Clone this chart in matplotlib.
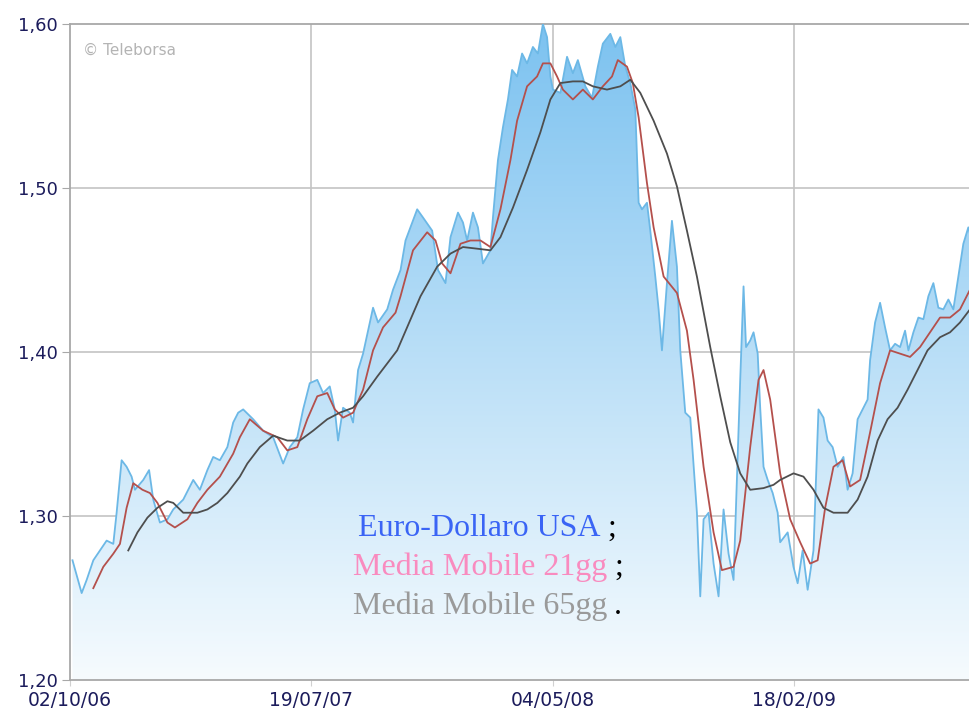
import numpy as np
import pandas as pd
import matplotlib
matplotlib.use("Agg")
import matplotlib.pyplot as plt
import matplotlib.dates as mdates
from matplotlib.ticker import FuncFormatter

# Cambio Euro-Dollaro (letture a intervalli irregolari)
prezzo_date = [
    "2006-10-05", "2006-10-16", "2006-10-22", "2006-10-30", "2006-11-07", "2006-11-15",
    "2006-11-23", "2006-11-27", "2006-12-03", "2006-12-09", "2006-12-15", "2006-12-19",
    "2006-12-29", "2007-01-05", "2007-01-10", "2007-01-18", "2007-01-27", "2007-02-03",
    "2007-02-15", "2007-02-27", "2007-03-07", "2007-03-16", "2007-03-23", "2007-03-31",
    "2007-04-09", "2007-04-16", "2007-04-22", "2007-04-28", "2007-05-10", "2007-05-22",
    "2007-06-03", "2007-06-15", "2007-06-23", "2007-07-02", "2007-07-09", "2007-07-17",
    "2007-07-26", "2007-08-02", "2007-08-10", "2007-08-16", "2007-08-20", "2007-08-26",
    "2007-09-03", "2007-09-07", "2007-09-13", "2007-09-19", "2007-09-25", "2007-10-01",
    "2007-10-07", "2007-10-18", "2007-10-25", "2007-11-03", "2007-11-09", "2007-11-23",
    "2007-11-30", "2007-12-11", "2007-12-18", "2007-12-27", "2008-01-02", "2008-01-11",
    "2008-01-17", "2008-01-22", "2008-01-29", "2008-02-04", "2008-02-10", "2008-02-19",
    "2008-02-22", "2008-02-28", "2008-03-05", "2008-03-11", "2008-03-16", "2008-03-22",
    "2008-03-28", "2008-04-03", "2008-04-10", "2008-04-16", "2008-04-22", "2008-04-27",
    "2008-05-01", "2008-05-04", "2008-05-13", "2008-05-21", "2008-05-28", "2008-06-03",
    "2008-06-12", "2008-06-20", "2008-06-27", "2008-07-03", "2008-07-12", "2008-07-18",
    "2008-07-24", "2008-07-30", "2008-08-05", "2008-08-11", "2008-08-15", "2008-08-19",
    "2008-08-25", "2008-08-29", "2008-09-04", "2008-09-08", "2008-09-12", "2008-09-18",
    "2008-09-24", "2008-09-30", "2008-10-04", "2008-10-10", "2008-10-16", "2008-10-24",
    "2008-10-28", "2008-11-01", "2008-11-07", "2008-11-13", "2008-11-19", "2008-11-25",
    "2008-12-01", "2008-12-07", "2008-12-11", "2008-12-15", "2008-12-19", "2008-12-22",
    "2008-12-27", "2008-12-31", "2009-01-05", "2009-01-08", "2009-01-12", "2009-01-17",
    "2009-01-23", "2009-01-29", "2009-02-01", "2009-02-10", "2009-02-17", "2009-02-22",
    "2009-02-28", "2009-03-06", "2009-03-13", "2009-03-19", "2009-03-25", "2009-03-30",
    "2009-04-05", "2009-04-11", "2009-04-18", "2009-04-23", "2009-04-29", "2009-05-05",
    "2009-05-11", "2009-05-17", "2009-05-20", "2009-05-26", "2009-06-01", "2009-06-07",
    "2009-06-13", "2009-06-19", "2009-06-25", "2009-07-01", "2009-07-05", "2009-07-11",
    "2009-07-17", "2009-07-23", "2009-07-29", "2009-08-04", "2009-08-10", "2009-08-16",
    "2009-08-22", "2009-08-28", "2009-09-03", "2009-09-09", "2009-09-15", "2009-09-17",
]
prezzo = [
    1.273, 1.253, 1.261, 1.273, 1.279, 1.285,
    1.283, 1.302, 1.334, 1.330, 1.324, 1.316,
    1.322, 1.328, 1.310, 1.296, 1.298, 1.304,
    1.310, 1.322, 1.316, 1.328, 1.336, 1.334,
    1.342, 1.357, 1.363, 1.365, 1.359, 1.352,
    1.348, 1.332, 1.342, 1.348, 1.365, 1.381,
    1.383, 1.375, 1.379, 1.365, 1.346, 1.366,
    1.363, 1.357, 1.389, 1.399, 1.413, 1.427,
    1.418, 1.426, 1.438, 1.450, 1.468, 1.487,
    1.482, 1.474, 1.450, 1.442, 1.470, 1.485,
    1.479, 1.468, 1.485, 1.476, 1.454, 1.462,
    1.482, 1.517, 1.537, 1.554, 1.572, 1.568,
    1.582, 1.576, 1.586, 1.582, 1.600, 1.592,
    1.568, 1.560, 1.558, 1.580, 1.570, 1.578,
    1.562, 1.555, 1.574, 1.588, 1.594, 1.586,
    1.592, 1.574, 1.564, 1.548, 1.491, 1.487,
    1.491, 1.474, 1.446, 1.426, 1.401, 1.442,
    1.480, 1.452, 1.401, 1.363, 1.360, 1.302,
    1.251, 1.298, 1.302, 1.271, 1.251, 1.304,
    1.277, 1.261, 1.322, 1.383, 1.440, 1.403,
    1.407, 1.412, 1.399, 1.366, 1.330, 1.322,
    1.314, 1.302, 1.284, 1.290, 1.269, 1.259,
    1.279, 1.255, 1.279, 1.365, 1.360, 1.346,
    1.342, 1.330, 1.336, 1.316, 1.326, 1.359,
    1.365, 1.371, 1.395, 1.418, 1.430, 1.415,
    1.401, 1.405, 1.403, 1.413, 1.401, 1.412,
    1.421, 1.420, 1.434, 1.442, 1.427, 1.426,
    1.432, 1.426, 1.446, 1.466, 1.476, 1.472,
]

# Media mobile a 21 giorni
mm21_date = [
    "2006-10-30", "2006-11-11", "2006-11-23", "2006-12-01", "2006-12-09", "2006-12-17",
    "2006-12-28", "2007-01-06", "2007-01-15", "2007-01-27", "2007-02-05", "2007-02-20",
    "2007-03-04", "2007-03-16", "2007-03-31", "2007-04-16", "2007-04-24", "2007-05-06",
    "2007-05-22", "2007-06-08", "2007-06-20", "2007-07-02", "2007-07-14", "2007-07-26",
    "2007-08-07", "2007-08-16", "2007-08-26", "2007-09-07", "2007-09-19", "2007-10-01",
    "2007-10-13", "2007-10-28", "2007-11-03", "2007-11-18", "2007-12-05", "2007-12-15",
    "2007-12-23", "2008-01-02", "2008-01-14", "2008-01-26", "2008-02-07", "2008-02-19",
    "2008-03-02", "2008-03-14", "2008-03-22", "2008-04-03", "2008-04-15", "2008-04-22",
    "2008-05-01", "2008-05-09", "2008-05-16", "2008-05-28", "2008-06-09", "2008-06-21",
    "2008-07-03", "2008-07-14", "2008-07-21", "2008-08-01", "2008-08-08", "2008-08-15",
    "2008-08-25", "2008-09-02", "2008-09-14", "2008-09-30", "2008-10-12", "2008-10-20",
    "2008-11-01", "2008-11-13", "2008-11-23", "2008-12-07", "2008-12-15", "2008-12-27",
    "2009-01-06", "2009-01-12", "2009-01-20", "2009-02-01", "2009-02-13", "2009-02-25",
    "2009-03-09", "2009-03-18", "2009-03-27", "2009-04-06", "2009-04-17", "2009-04-26",
    "2009-05-08", "2009-05-20", "2009-06-01", "2009-06-13", "2009-06-25", "2009-07-07",
    "2009-07-19", "2009-07-31", "2009-08-12", "2009-08-24", "2009-09-05", "2009-09-15",
    "2009-09-17",
]
mm21 = [
    1.256, 1.269, 1.277, 1.283, 1.305, 1.320,
    1.316, 1.314, 1.308, 1.296, 1.293, 1.298,
    1.308, 1.316, 1.324, 1.338, 1.348, 1.359,
    1.352, 1.348, 1.340, 1.342, 1.359, 1.373,
    1.375, 1.365, 1.360, 1.363, 1.377, 1.401,
    1.415, 1.424, 1.434, 1.462, 1.473, 1.468,
    1.454, 1.448, 1.466, 1.468, 1.468, 1.464,
    1.487, 1.517, 1.541, 1.562, 1.568, 1.576,
    1.576, 1.568, 1.560, 1.554, 1.560, 1.554,
    1.562, 1.568, 1.578, 1.574, 1.564, 1.543,
    1.503, 1.476, 1.446, 1.436, 1.413, 1.383,
    1.330, 1.290, 1.267, 1.269, 1.285, 1.342,
    1.383, 1.389, 1.371, 1.326, 1.298, 1.284,
    1.271, 1.273, 1.305, 1.330, 1.334, 1.318,
    1.322, 1.351, 1.381, 1.401, 1.399, 1.397,
    1.403, 1.412, 1.421, 1.421, 1.426, 1.436,
    1.438,
]

# Media mobile a 65 giorni
mm65_date = [
    "2006-12-11", "2006-12-22", "2007-01-03", "2007-01-15", "2007-01-27", "2007-02-03",
    "2007-02-15", "2007-03-04", "2007-03-16", "2007-03-28", "2007-04-09", "2007-04-24",
    "2007-05-03", "2007-05-18", "2007-06-03", "2007-06-20", "2007-07-05", "2007-07-21",
    "2007-08-07", "2007-08-22", "2007-09-07", "2007-09-19", "2007-10-06", "2007-10-18",
    "2007-10-30", "2007-11-27", "2007-12-17", "2008-01-02", "2008-01-17", "2008-02-03",
    "2008-02-19", "2008-03-02", "2008-03-17", "2008-04-03", "2008-04-19", "2008-05-01",
    "2008-05-13", "2008-05-28", "2008-06-09", "2008-06-21", "2008-07-08", "2008-07-24",
    "2008-08-05", "2008-08-17", "2008-09-02", "2008-09-18", "2008-09-30", "2008-10-12",
    "2008-10-24", "2008-11-09", "2008-11-21", "2008-12-03", "2008-12-15", "2008-12-27",
    "2009-01-12", "2009-01-24", "2009-02-01", "2009-02-17", "2009-03-01", "2009-03-13",
    "2009-03-25", "2009-04-06", "2009-04-23", "2009-05-05", "2009-05-17", "2009-05-29",
    "2009-06-10", "2009-06-22", "2009-07-04", "2009-07-16", "2009-07-28", "2009-08-12",
    "2009-08-24", "2009-09-05", "2009-09-17",
]
mm65 = [
    1.279, 1.290, 1.299, 1.305, 1.309, 1.308,
    1.302, 1.302, 1.304, 1.308, 1.314, 1.324,
    1.332, 1.342, 1.349, 1.346, 1.346, 1.352,
    1.359, 1.363, 1.366, 1.373, 1.385, 1.393,
    1.401, 1.434, 1.452, 1.460, 1.464, 1.463,
    1.462, 1.470, 1.488, 1.511, 1.534, 1.554,
    1.564, 1.565, 1.565, 1.562, 1.560, 1.562,
    1.566, 1.558, 1.541, 1.521, 1.501, 1.474,
    1.446, 1.403, 1.373, 1.345, 1.326, 1.316,
    1.317, 1.319, 1.322, 1.326, 1.324, 1.316,
    1.305, 1.302, 1.302, 1.310, 1.324, 1.346,
    1.359, 1.366, 1.377, 1.389, 1.401, 1.409,
    1.412, 1.418, 1.426,
]

tick_date = ["2006-10-02", "2007-07-19", "2008-05-04", "2009-02-18"]
tick_y = [1.20, 1.30, 1.40, 1.50, 1.60]

x_prezzo = pd.to_datetime(prezzo_date)
x_mm21 = pd.to_datetime(mm21_date)
x_mm65 = pd.to_datetime(mm65_date)
x_tick = pd.to_datetime(tick_date)
xmin, xmax = pd.Timestamp("2006-10-02"), pd.Timestamp("2009-09-17")
ymin, ymax = 1.20, 1.60

fig = plt.figure(figsize=(9.7, 7.15), dpi=100)
ax = fig.add_axes([70 / 970, 35 / 715, 900 / 970, 656 / 715])
ax.set_xlim(xmin, xmax)
ax.set_ylim(ymin, ymax)

# griglia
for y in tick_y[1:-1]:
    ax.axhline(y, color="#c4c4c4", lw=1.2, zorder=1)
for d in x_tick[1:]:
    ax.axvline(d, color="#c4c4c4", lw=1.2, zorder=1)

# area sotto il prezzo con sfumatura verticale
area = ax.fill_between(x_prezzo, prezzo, ymin, color="none", lw=0, zorder=2)
top = np.array([124, 194, 240]) / 255
bottom = np.array([246, 251, 254]) / 255
t = np.linspace(0, 1, 256)[:, None]
grad = (top * (1 - t) + bottom * t)[:, None, :]
xl = mdates.date2num([xmin, xmax])
img = ax.imshow(grad, extent=[xl[0], xl[1], ymin, ymax], aspect="auto",
                origin="upper", zorder=2, interpolation="bilinear")
img.set_clip_path(area.get_paths()[0], transform=ax.transData)

ax.plot(x_prezzo, prezzo, color="#6cb8e6", lw=1.3, zorder=3)
ax.plot(x_mm21, mm21, color="#b4504c", lw=1.3, zorder=4)
ax.plot(x_mm65, mm65, color="#4e4e4e", lw=1.3, zorder=4)

# assi
for s in ["left", "top", "bottom"]:
    ax.spines[s].set_color("#a8a8a8")
    ax.spines[s].set_linewidth(1.3)
ax.spines["right"].set_visible(False)

ax.set_yticks(tick_y)
ax.yaxis.set_major_formatter(FuncFormatter(lambda v, p: f"{v:.2f}".replace(".", ",")))
ax.set_xticks(x_tick)
ax.xaxis.set_major_formatter(mdates.DateFormatter("%d/%m/%y"))
ax.tick_params(axis="y", length=6, color="#a8a8a8", pad=3,
               labelsize=13, labelcolor="#1c1c5c")
ax.tick_params(axis="x", length=4, color="#d0d0d0", pad=4,
               labelsize=13.5, labelcolor="#1c1c5c")

ax.text(13 / 900, 1 - 26 / 656, "\u00a9 Teleborsa", transform=ax.transAxes,
        fontsize=11, color="#b4b4b4", va="center", ha="left")

# legenda testuale
serif = "Liberation Serif"
righe = [("Euro-Dollaro USA", "#3a64f5", ";", 358, 528),
         ("Media Mobile 21gg", "#f98bbf", ";", 353, 567),
         ("Media Mobile 65gg", "#9a9a9a", ".", 353, 606)]
for testo, colore, punt, xpx, ypx in righe:
    tx = fig.text(xpx / 970, 1 - ypx / 715, testo, fontsize=23, family=serif,
                  color=colore, va="center", ha="left")
    ax.annotate(punt, xy=(1, 0.5), xycoords=tx, xytext=(5, 0),
                textcoords="offset points", fontsize=23, family=serif,
                color="black", va="center", ha="left")

fig.savefig("out.png", dpi=100)
